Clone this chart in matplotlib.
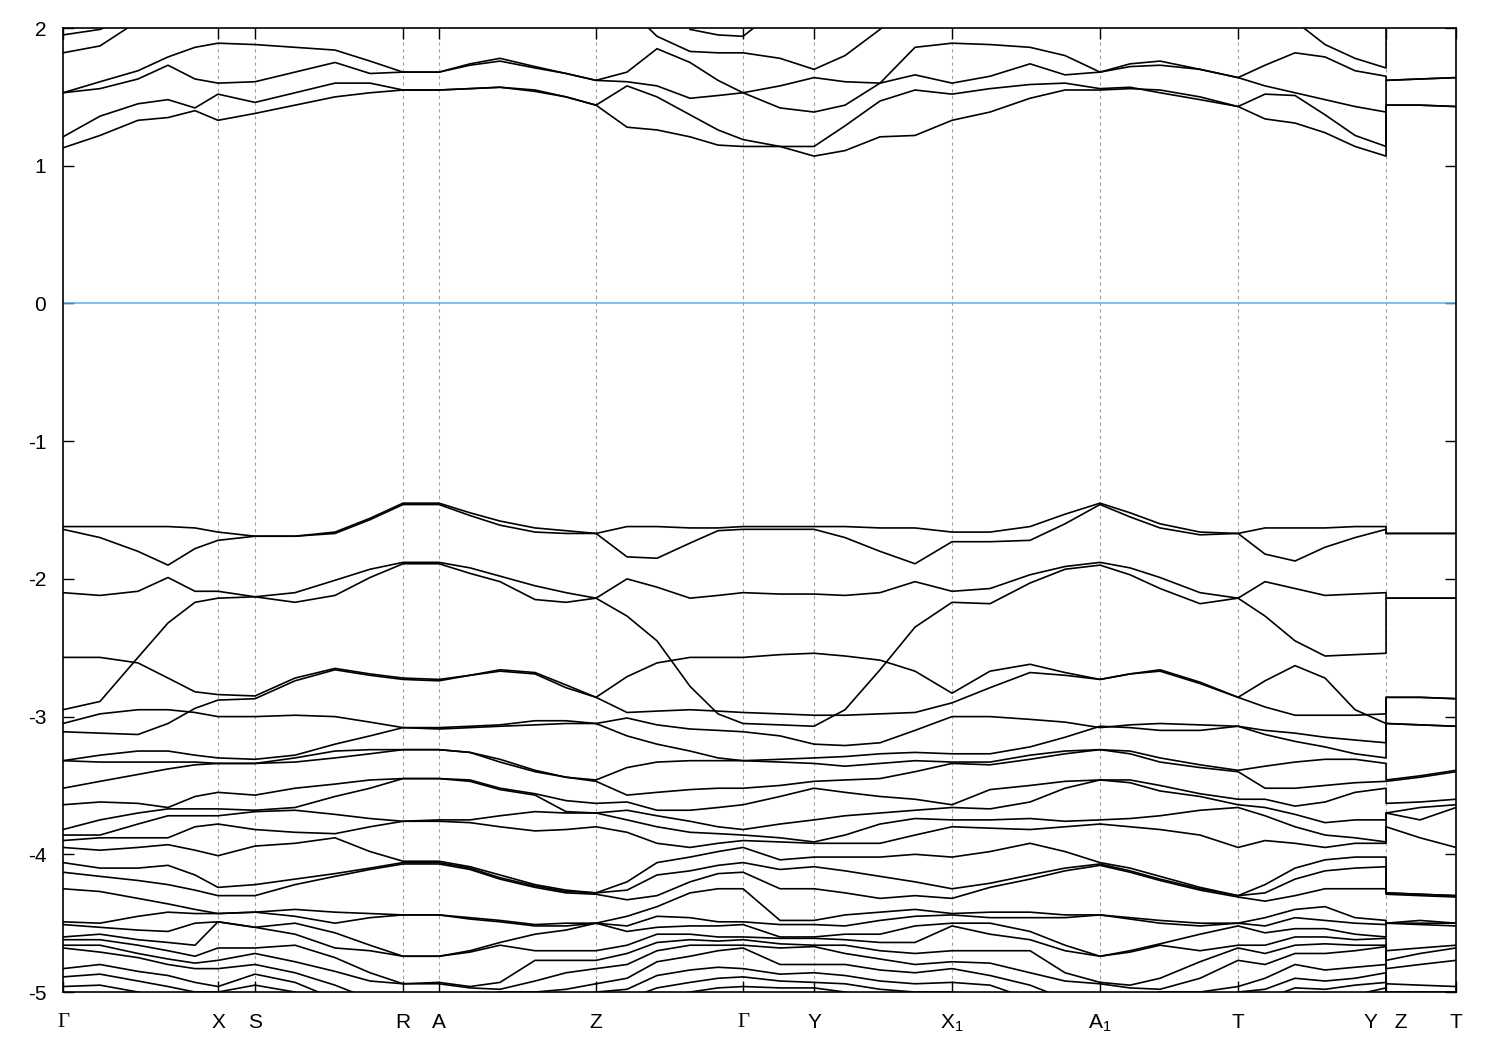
import numpy as np
import matplotlib
matplotlib.use("Agg")
import matplotlib.pyplot as plt

plt.rcParams['font.family'] = ['Liberation Sans', 'DejaVu Sans']
plt.rcParams['mathtext.default'] = 'regular'
plt.rcParams['axes.unicode_minus'] = False

nan = np.nan

# k-path positions (arbitrary path units), high symmetry points
K = [0, 37, 75, 105, 132, 155, 192, 232, 272, 307, 340, 376, 407, 437, 472, 503, 533,
     564, 594, 627, 655, 680, 717, 751, 782, 817, 852, 889, 927, 967, 1002, 1037, 1067,
     1097, 1137, 1175, 1202, 1232, 1262, 1292, 1323]
K_ZT = [1323, 1357, 1393]
sym_k = [0, 155, 192, 340, 376, 533, 680, 751, 889, 1037, 1175, 1323, 1393]
sym_labels = ['Γ', 'X', 'S', 'R', 'A', 'Z', 'Γ', 'Y', 'X$_1$', 'A$_1$', 'T', 'Y   Z', 'T']

# conduction bands (eV)
c_a = [1.13, 1.22, 1.33, 1.35, 1.40, 1.33, 1.38, 1.44, 1.50, 1.53, 1.55, 1.55, 1.56, 1.57, 1.54, 1.50, 1.44,
       1.28, 1.26, 1.21, 1.15, 1.14, 1.14, 1.14, 1.29, 1.47, 1.55, 1.52, 1.56, 1.59, 1.60, 1.56, 1.57,
       1.53, 1.48, 1.43, 1.52, 1.51, 1.37, 1.22, 1.14]
c_b = [1.21, 1.36, 1.45, 1.48, 1.42, 1.52, 1.46, 1.53, 1.60, 1.60, 1.55, 1.55, 1.56, 1.57, 1.55, 1.50, 1.44,
       1.58, 1.50, 1.37, 1.26, 1.19, 1.14, 1.07, 1.11, 1.21, 1.22, 1.33, 1.39, 1.49, 1.55, 1.55, 1.56,
       1.55, 1.50, 1.43, 1.34, 1.31, 1.24, 1.14, 1.07]
c_c = [1.53, 1.56, 1.63, 1.73, 1.63, 1.60, 1.61, 1.68, 1.75, 1.67, 1.68, 1.68, 1.73, 1.76, 1.71, 1.67, 1.62,
       1.61, 1.58, 1.49, 1.51, 1.53, 1.58, 1.64, 1.61, 1.60, 1.66, 1.60, 1.65, 1.74, 1.66, 1.68, 1.72,
       1.73, 1.70, 1.64, 1.58, 1.53, 1.48, 1.43, 1.39]
c_d = [1.53, 1.61, 1.69, 1.79, 1.86, 1.89, 1.88, 1.86, 1.84, 1.76, 1.68, 1.68, 1.74, 1.78, 1.72, 1.67, 1.62,
       1.68, 1.85, 1.75, 1.62, 1.53, 1.42, 1.39, 1.44, 1.60, 1.86, 1.89, 1.88, 1.86, 1.80, 1.68, 1.74,
       1.76, 1.70, 1.64, 1.73, 1.82, 1.79, 1.69, 1.65]
c_e = [1.82, 1.87, 2.05] + [nan] * 38
c_f = [1.95, 1.99, 2.10] + [nan] * 38
c_g = [nan] * 17 + [2.15, 1.94, 1.83, 1.82, 1.82, 1.78, 1.70, 1.80, 1.99, 2.20] + [nan] * 14
c_h = [nan] * 19 + [1.99, 1.95, 1.94, 2.15] + [nan] * 18
c_i = [nan] * 36 + [2.20, 2.05, 1.88, 1.78, 1.71]

# upper valence bands (eV)
v_a = [-1.62, -1.62, -1.62, -1.62, -1.63, -1.66, -1.69, -1.69, -1.66, -1.56, -1.45, -1.45, -1.52, -1.58,
       -1.63, -1.65, -1.67, -1.62, -1.62, -1.63, -1.63, -1.62, -1.62, -1.62, -1.62, -1.63, -1.63, -1.66,
       -1.66, -1.62, -1.53, -1.45, -1.52, -1.60, -1.66, -1.67, -1.63, -1.63, -1.63, -1.62, -1.62]
v_b = [-1.64, -1.70, -1.80, -1.90, -1.78, -1.72, -1.69, -1.69, -1.67, -1.57, -1.46, -1.46, -1.54, -1.61,
       -1.66, -1.67, -1.67, -1.84, -1.85, -1.74, -1.65, -1.64, -1.64, -1.64, -1.70, -1.80, -1.89, -1.73,
       -1.73, -1.72, -1.60, -1.46, -1.55, -1.63, -1.68, -1.67, -1.82, -1.87, -1.77, -1.70, -1.64]
v_c = [-2.10, -2.12, -2.09, -1.99, -2.09, -2.09, -2.13, -2.10, -2.01, -1.93, -1.88, -1.88, -1.92, -1.98,
       -2.05, -2.10, -2.14, -2.00, -2.06, -2.14, -2.12, -2.10, -2.11, -2.11, -2.12, -2.10, -2.02, -2.09,
       -2.07, -1.97, -1.91, -1.88, -1.92, -1.99, -2.10, -2.14, -2.02, -2.07, -2.12, -2.11, -2.10]
v_d = [-2.95, -2.89, -2.57, -2.32, -2.17, -2.14, -2.13, -2.17, -2.12, -1.99, -1.89, -1.89, -1.96, -2.02,
       -2.15, -2.17, -2.14, -2.27, -2.45, -2.78, -2.98, -3.05, -3.06, -3.07, -2.95, -2.66, -2.35, -2.17,
       -2.18, -2.03, -1.93, -1.90, -1.97, -2.07, -2.18, -2.14, -2.27, -2.45, -2.56, -2.55, -2.54]
v_e = [-2.57, -2.57, -2.61, -2.72, -2.82, -2.84, -2.85, -2.72, -2.65, -2.69, -2.72, -2.73, -2.70, -2.66,
       -2.68, -2.77, -2.86, -2.71, -2.61, -2.57, -2.57, -2.57, -2.55, -2.54, -2.56, -2.59, -2.67, -2.83,
       -2.67, -2.62, -2.68, -2.73, -2.69, -2.66, -2.75, -2.86, -2.74, -2.63, -2.72, -2.95, -3.05]
v_f = [-3.11, -3.12, -3.13, -3.05, -2.94, -2.88, -2.87, -2.74, -2.66, -2.70, -2.73, -2.74, -2.70, -2.67,
       -2.69, -2.79, -2.86, -2.97, -2.96, -2.95, -2.96, -2.97, -2.98, -2.99, -2.99, -2.98, -2.97, -2.90,
       -2.79, -2.68, -2.70, -2.73, -2.69, -2.67, -2.76, -2.86, -2.93, -2.99, -2.99, -2.99, -2.98]
v_g = [-3.05, -2.98, -2.95, -2.95, -2.97, -3.00, -3.00, -2.99, -3.00, -3.04, -3.08, -3.09, -3.08, -3.07,
       -3.06, -3.05, -3.05, -3.01, -3.06, -3.09, -3.10, -3.11, -3.14, -3.20, -3.21, -3.19, -3.10, -3.00,
       -3.00, -3.02, -3.04, -3.08, -3.06, -3.05, -3.06, -3.07, -3.10, -3.12, -3.15, -3.17, -3.19]

# Z-T segment of the same bands
zt_upper = {
    'c_a': [1.44, 1.44, 1.43], 'c_b': [1.44, 1.44, 1.43],
    'c_c': [1.62, 1.63, 1.64], 'c_d': [1.62, 1.63, 1.64], 'c_i': [2.10, 2.10, 2.10],
    'v_a': [-1.67, -1.67, -1.67], 'v_b': [-1.67, -1.67, -1.67],
    'v_c': [-2.14, -2.14, -2.14], 'v_d': [-2.14, -2.14, -2.14],
    'v_e': [-2.86, -2.86, -2.87], 'v_f': [-2.86, -2.86, -2.87],
    'v_g': [-3.05, -3.06, -3.07],
}

# dense lower valence manifold: energies (sorted) at every k point of K
dense = [
    [-3.32, -3.32, -3.52, -3.64, -3.82, -3.86, -3.90, -3.95, -4.06, -4.13, -4.25, -4.49, -4.51, -4.60, -4.62, -4.66, -4.68, -4.83, -4.89, -4.96],
    [-3.28, -3.33, -3.47, -3.62, -3.75, -3.86, -3.88, -3.97, -4.10, -4.16, -4.27, -4.50, -4.53, -4.58, -4.62, -4.66, -4.71, -4.80, -4.87, -4.95],
    [-3.25, -3.33, -3.42, -3.63, -3.70, -3.78, -3.88, -3.95, -4.10, -4.19, -4.32, -4.45, -4.55, -4.62, -4.66, -4.72, -4.75, -4.85, -4.92, -5.00],
    [-3.25, -3.33, -3.38, -3.66, -3.67, -3.72, -3.88, -3.93, -4.08, -4.22, -4.36, -4.42, -4.56, -4.64, -4.70, -4.76, -4.80, -4.88, -4.96, -5.05],
    [-3.28, -3.33, -3.35, -3.58, -3.67, -3.72, -3.80, -3.97, -4.15, -4.26, -4.40, -4.43, -4.50, -4.66, -4.74, -4.79, -4.83, -4.93, -5.00, -5.10],
    [-3.30, -3.34, -3.34, -3.55, -3.67, -3.72, -3.78, -4.01, -4.24, -4.30, -4.43, -4.43, -4.49, -4.49, -4.68, -4.77, -4.83, -4.96, -5.00, -5.10],
    [-3.31, -3.34, -3.34, -3.57, -3.68, -3.69, -3.82, -3.94, -4.22, -4.30, -4.42, -4.42, -4.53, -4.53, -4.68, -4.72, -4.80, -4.87, -4.95, -5.10],
    [-3.28, -3.30, -3.33, -3.52, -3.66, -3.68, -3.84, -3.92, -4.18, -4.22, -4.40, -4.45, -4.50, -4.58, -4.66, -4.78, -4.86, -4.93, -5.00, -5.10],
    [-3.20, -3.25, -3.30, -3.49, -3.58, -3.71, -3.85, -3.88, -4.14, -4.16, -4.42, -4.50, -4.57, -4.68, -4.75, -4.85, -4.95, -5.05, -5.15, -5.25],
    [-3.14, -3.24, -3.27, -3.46, -3.52, -3.74, -3.80, -3.98, -4.10, -4.11, -4.43, -4.46, -4.66, -4.70, -4.86, -4.92, -5.05, -5.10, -5.20, -5.30],
    [-3.08, -3.24, -3.24, -3.45, -3.45, -3.76, -3.76, -4.05, -4.06, -4.07, -4.44, -4.44, -4.74, -4.74, -4.94, -4.94, -5.05, -5.10, -5.20, -5.30],
    [-3.08, -3.24, -3.24, -3.45, -3.45, -3.75, -3.76, -4.05, -4.06, -4.07, -4.44, -4.44, -4.74, -4.74, -4.93, -4.94, -5.05, -5.10, -5.20, -5.30],
    [-3.07, -3.26, -3.26, -3.46, -3.47, -3.75, -3.77, -4.09, -4.10, -4.11, -4.46, -4.47, -4.70, -4.71, -4.96, -4.97, -5.05, -5.10, -5.20, -5.30],
    [-3.06, -3.31, -3.33, -3.52, -3.53, -3.72, -3.80, -4.15, -4.17, -4.18, -4.48, -4.49, -4.64, -4.66, -4.93, -4.98, -5.00, -5.10, -5.20, -5.30],
    [-3.03, -3.39, -3.40, -3.56, -3.57, -3.69, -3.83, -4.22, -4.23, -4.24, -4.51, -4.52, -4.58, -4.70, -4.77, -4.92, -5.00, -5.10, -5.20, -5.30],
    [-3.03, -3.44, -3.44, -3.61, -3.69, -3.70, -3.82, -4.26, -4.27, -4.28, -4.50, -4.52, -4.55, -4.70, -4.77, -4.86, -4.98, -5.10, -5.20, -5.30],
    [-3.05, -3.46, -3.47, -3.63, -3.70, -3.70, -3.80, -4.28, -4.28, -4.29, -4.50, -4.50, -4.50, -4.70, -4.77, -4.83, -4.94, -5.00, -5.10, -5.20],
    [-3.14, -3.37, -3.57, -3.62, -3.68, -3.75, -3.84, -4.20, -4.26, -4.33, -4.45, -4.52, -4.56, -4.66, -4.72, -4.80, -4.90, -4.98, -5.05, -5.15],
    [-3.20, -3.33, -3.55, -3.68, -3.72, -3.80, -3.92, -4.06, -4.15, -4.30, -4.38, -4.45, -4.53, -4.58, -4.64, -4.70, -4.78, -4.88, -4.97, -5.05],
    [-3.25, -3.32, -3.53, -3.68, -3.76, -3.84, -3.95, -4.02, -4.12, -4.20, -4.28, -4.46, -4.52, -4.58, -4.62, -4.66, -4.74, -4.84, -4.93, -5.00],
    [-3.30, -3.32, -3.52, -3.66, -3.80, -3.85, -3.92, -3.98, -4.08, -4.14, -4.25, -4.49, -4.52, -4.60, -4.63, -4.66, -4.70, -4.82, -4.90, -4.97],
    [-3.32, -3.32, -3.52, -3.64, -3.82, -3.86, -3.90, -3.95, -4.06, -4.13, -4.25, -4.49, -4.51, -4.60, -4.62, -4.66, -4.68, -4.83, -4.89, -4.96],
    [-3.31, -3.33, -3.50, -3.58, -3.78, -3.88, -3.91, -4.04, -4.11, -4.25, -4.48, -4.51, -4.60, -4.61, -4.65, -4.68, -4.80, -4.87, -4.92, -4.97],
    [-3.30, -3.34, -3.47, -3.52, -3.75, -3.91, -3.92, -4.02, -4.09, -4.25, -4.48, -4.51, -4.60, -4.61, -4.66, -4.67, -4.80, -4.86, -4.93, -4.97],
    [-3.29, -3.36, -3.46, -3.55, -3.72, -3.86, -3.92, -4.02, -4.12, -4.28, -4.44, -4.52, -4.58, -4.62, -4.66, -4.72, -4.80, -4.88, -4.94, -5.00],
    [-3.27, -3.34, -3.45, -3.58, -3.70, -3.78, -3.92, -4.02, -4.16, -4.32, -4.42, -4.48, -4.58, -4.64, -4.70, -4.76, -4.84, -4.92, -4.98, -5.05],
    [-3.26, -3.32, -3.40, -3.60, -3.68, -3.74, -3.86, -4.00, -4.20, -4.30, -4.40, -4.45, -4.52, -4.64, -4.72, -4.80, -4.86, -4.94, -5.00, -5.10],
    [-3.27, -3.33, -3.34, -3.64, -3.66, -3.75, -3.80, -4.02, -4.25, -4.32, -4.43, -4.44, -4.50, -4.52, -4.70, -4.78, -4.83, -4.93, -5.00, -5.10],
    [-3.27, -3.33, -3.35, -3.53, -3.67, -3.75, -3.81, -3.98, -4.21, -4.24, -4.42, -4.46, -4.50, -4.58, -4.70, -4.79, -4.88, -4.95, -5.05, -5.15],
    [-3.22, -3.28, -3.31, -3.50, -3.62, -3.74, -3.82, -3.92, -4.15, -4.18, -4.42, -4.46, -4.56, -4.62, -4.70, -4.86, -4.95, -5.05, -5.15, -5.25],
    [-3.15, -3.25, -3.27, -3.47, -3.52, -3.76, -3.80, -3.98, -4.10, -4.12, -4.44, -4.46, -4.66, -4.70, -4.86, -4.92, -5.05, -5.10, -5.20, -5.30],
    [-3.07, -3.24, -3.24, -3.46, -3.46, -3.75, -3.78, -4.06, -4.07, -4.08, -4.44, -4.44, -4.74, -4.74, -4.93, -4.94, -5.05, -5.10, -5.20, -5.30],
    [-3.08, -3.25, -3.27, -3.46, -3.48, -3.74, -3.80, -4.10, -4.12, -4.13, -4.46, -4.47, -4.70, -4.71, -4.95, -4.97, -5.05, -5.10, -5.20, -5.30],
    [-3.10, -3.30, -3.33, -3.50, -3.54, -3.72, -3.82, -4.16, -4.18, -4.19, -4.48, -4.50, -4.65, -4.66, -4.90, -4.98, -5.00, -5.10, -5.20, -5.30],
    [-3.10, -3.35, -3.37, -3.56, -3.58, -3.68, -3.86, -4.24, -4.25, -4.26, -4.50, -4.52, -4.58, -4.70, -4.78, -4.90, -5.00, -5.10, -5.20, -5.30],
    [-3.07, -3.39, -3.40, -3.60, -3.64, -3.66, -3.95, -4.30, -4.30, -4.31, -4.50, -4.50, -4.52, -4.66, -4.68, -4.77, -4.96, -5.00, -5.10, -5.20],
    [-3.13, -3.36, -3.52, -3.60, -3.66, -3.72, -3.90, -4.22, -4.28, -4.34, -4.46, -4.52, -4.57, -4.66, -4.72, -4.80, -4.90, -4.98, -5.05, -5.15],
    [-3.18, -3.33, -3.52, -3.65, -3.71, -3.80, -3.92, -4.10, -4.18, -4.30, -4.40, -4.46, -4.54, -4.60, -4.66, -4.72, -4.80, -4.90, -4.97, -5.05],
    [-3.22, -3.31, -3.50, -3.62, -3.77, -3.86, -3.95, -4.04, -4.12, -4.25, -4.38, -4.48, -4.54, -4.60, -4.65, -4.72, -4.84, -4.92, -4.98, -5.05],
    [-3.27, -3.31, -3.48, -3.55, -3.75, -3.88, -3.92, -4.02, -4.10, -4.25, -4.46, -4.50, -4.58, -4.62, -4.66, -4.70, -4.82, -4.90, -4.95, -5.02],
    [-3.30, -3.34, -3.47, -3.52, -3.75, -3.91, -3.92, -4.02, -4.09, -4.25, -4.48, -4.51, -4.60, -4.61, -4.66, -4.67, -4.80, -4.86, -4.93, -4.97],
]
dense_zt = [
    [-3.05, -3.46, -3.47, -3.63, -3.70, -3.70, -3.80, -4.28, -4.28, -4.29, -4.50, -4.50, -4.50, -4.70, -4.77, -4.83, -4.94, -5.00, -5.10, -5.20],
    [-3.06, -3.43, -3.44, -3.62, -3.66, -3.75, -3.88, -4.29, -4.29, -4.30, -4.48, -4.50, -4.51, -4.68, -4.72, -4.80, -4.95, -5.00, -5.10, -5.20],
    [-3.07, -3.39, -3.40, -3.60, -3.64, -3.66, -3.95, -4.30, -4.30, -4.31, -4.50, -4.50, -4.52, -4.66, -4.68, -4.77, -4.96, -5.00, -5.10, -5.20],
]

fig = plt.figure(figsize=(15, 10.5), dpi=100)
ax = fig.add_axes([0.042, 0.0552, 0.9287, 0.9181])

named = {'c_a': c_a, 'c_b': c_b, 'c_c': c_c, 'c_d': c_d, 'c_e': c_e, 'c_f': c_f,
         'c_g': c_g, 'c_h': c_h, 'c_i': c_i, 'v_a': v_a, 'v_b': v_b, 'v_c': v_c,
         'v_d': v_d, 'v_e': v_e, 'v_f': v_f, 'v_g': v_g}
xs = np.array(K + K_ZT)
for name, band in named.items():
    zt = zt_upper.get(name, [nan, nan, nan])
    ax.plot(xs, np.array(band + zt), color='black', lw=1.2, zorder=3)

d = np.array(dense)
dz = np.array(dense_zt)
for i in range(d.shape[1]):
    ax.plot(xs, np.concatenate([d[:, i], dz[:, i]]), color='black', lw=1.2, zorder=3)

ax.axhline(0, color='#56b4e9', lw=1.1, zorder=2)
for k in sym_k[1:-1]:
    ax.axvline(k, color='#a0a0a0', lw=0.8, ls=(0, (3, 3)), zorder=1)

ax.set_xlim(0, 1393)
ax.set_ylim(-5, 2)
ax.set_xticks(sym_k)
ax.set_xticklabels(sym_labels)
ax.set_yticks(range(-5, 3))
ax.tick_params(axis='both', direction='in', top=True, right=True, length=8,
               width=1.0, labelsize=15)
ax.tick_params(axis='x', pad=15)
ax.tick_params(axis='y', pad=12)
for lab in ax.get_xticklabels():
    if lab.get_text() == 'Γ':
        lab.set_family('Liberation Serif')
for s in ax.spines.values():
    s.set_linewidth(1.2)

fig.savefig('out.png', dpi=100)
